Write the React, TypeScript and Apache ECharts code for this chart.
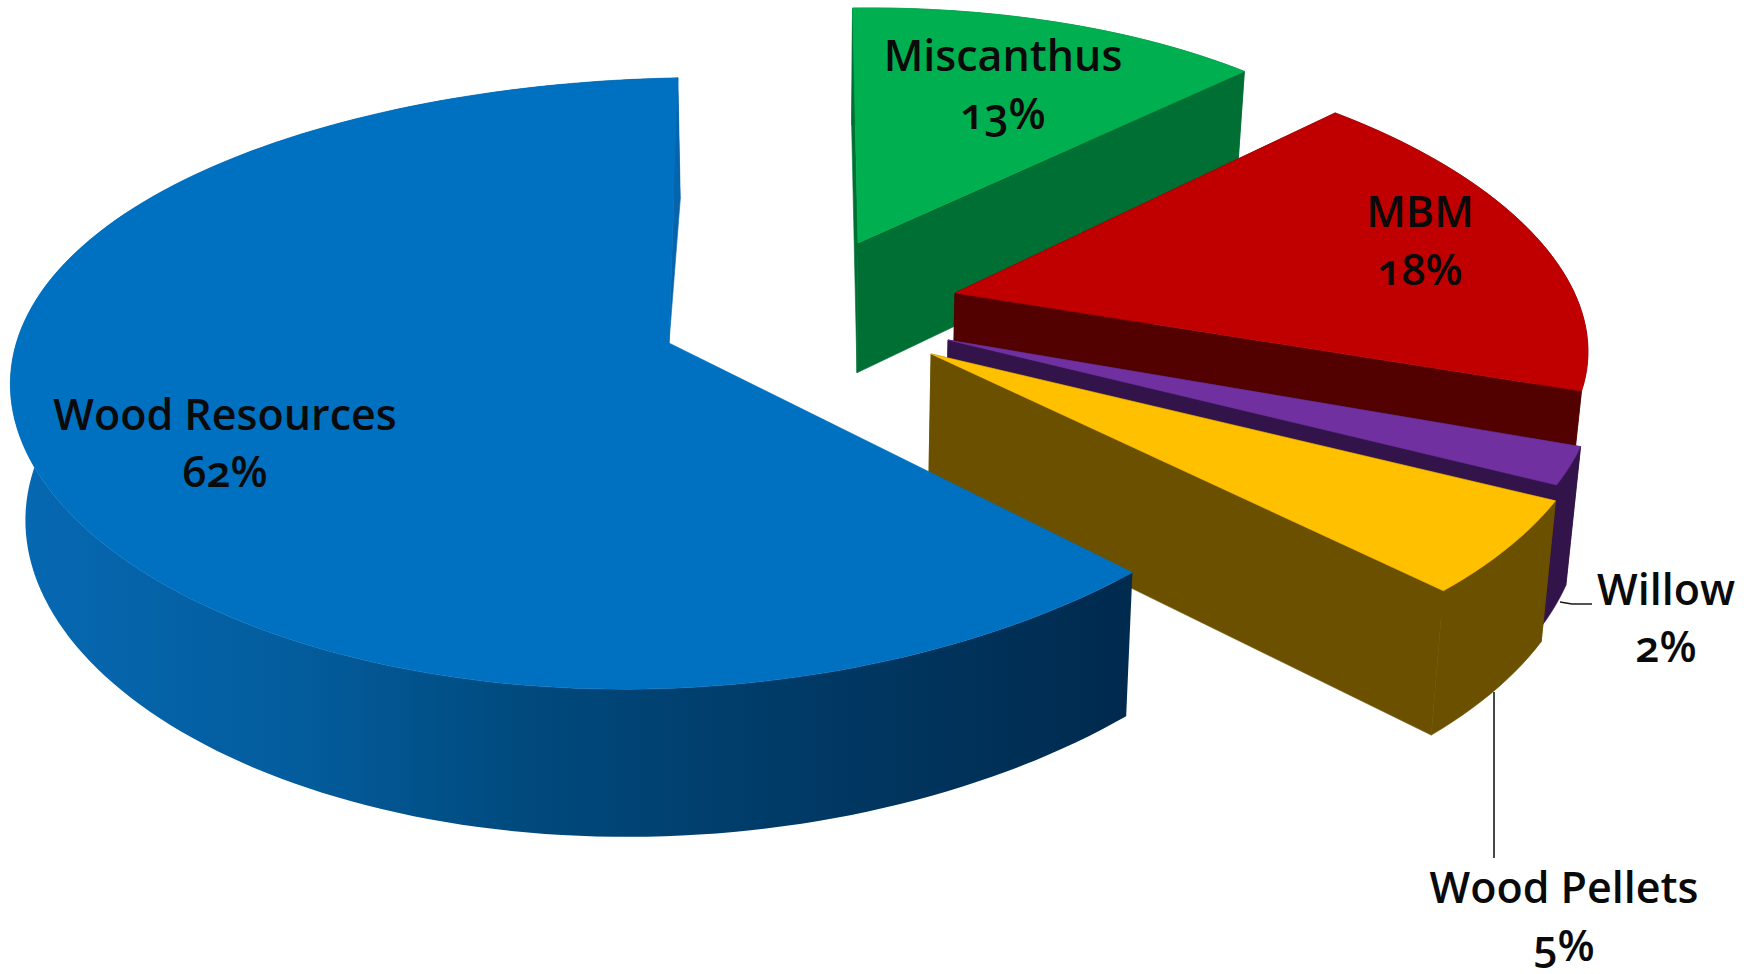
import React, { useEffect, useRef } from "react";
import * as echarts from "echarts";

// Pie slices, clockwise from twelve o'clock.
const sliceNames = ["Miscanthus", "MBM", "Willow", "Wood Pellets", "Wood Resources"];
const sliceShares = [13, 18, 2, 5, 62];

// Slice paint: top face and side walls.
const topColors = ["#00B050", "#C00000", "#7030A0", "#FFC000", "#0070C0"];
const wallColors = ["#006F33", "#520000", "#33144A", "#6B5000", "#0664AD"];

// How far each slice is pulled out of the pie, on the pie's own plane.
const explodeU = [0.0855, 0.2353, 0.2188, 0.1919, -0.2062];
const explodeV = [0.2438, 0.0656, -0.0947, -0.141, -0.1047];

// Per-slice foreshortening of the radius, tilt and horizontal perspective strength.
const scaleU = [0.915, 0.966, 0.977, 0.998, 0.998];
const scaleV = [0.96, 0.965, 1.0, 1.0, 1.0];
const tilt = [0.03, 0.03, 0.03, 0.03, 0.05];
const perspectiveU = [0.12, 0.2, 0.13, 0.13, 0.07];

// Label anchors, one pair per slice.
const nameX = [1003, 1420, 1666, 1564, 225];
const nameY = [54, 210, 588, 886, 413];
const shareY = [112, 268, 645, 944, 470];

// Pie projection.
const CX = 804;
const CY = 312;
const RX = 650;
const RY = 292;
const PERSPECTIVE_V = 0.13;
const DEPTH = 133;
const CONVERGE = 0.019;

const FONT = '"Open Sans", "Noto Sans", sans-serif';

function project(i: number, u: number, v: number, lower: boolean): number[] {
  let x = CX + (RX * u) / (1 + perspectiveU[i] * v);
  let y = CY - (RY * v) / (1 + PERSPECTIVE_V * v);
  if (lower) {
    y += DEPTH * (1 - 0.1 * v);
    x = CX + (x - CX) * (1 - CONVERGE);
  }
  return [x, y];
}

const blueWallGradient = () =>
  new echarts.graphic.LinearGradient(
    25,
    0,
    1128,
    0,
    [
      { offset: 0, color: "#0668B2" },
      { offset: 0.25, color: "#035C9C" },
      { offset: 0.45, color: "#004A7E" },
      { offset: 0.7, color: "#003A66" },
      { offset: 1, color: "#002A4E" },
    ],
    true
  );

function renderSlice(params: any, api: any) {
  const i = params.dataIndex;
  const isLargest = i === sliceShares.length - 1;
  const total = sliceShares.reduce((a, b) => a + b, 0);
  const before = sliceShares.slice(0, i).reduce((a, b) => a + b, 0);
  const from = (before / total) * Math.PI * 2;
  const to = ((before + api.value(0)) / total) * Math.PI * 2;
  const ou = explodeU[i];
  const ov = explodeV[i];

  const steps = Math.max(8, Math.round((to - from) * 40));
  const upper: number[][] = [];
  const lower: number[][] = [];
  for (let s = 0; s <= steps; s++) {
    const a = from + ((to - from) * s) / steps;
    const u = ou + scaleU[i] * Math.sin(a);
    const v = ov + scaleV[i] * Math.cos(a) + tilt[i] * Math.sin(a);
    upper.push(project(i, u, v, false));
    lower.push(project(i, u, v, true));
  }
  const apex = project(i, ou, ov, false);
  const apexLow = project(i, ou, ov, true);
  const wall = wallColors[i];
  const outerFill: any = isLargest ? blueWallGradient() : wall;

  const poly = (points: number[][], fill: any) => ({
    type: "polygon",
    shape: { points },
    style: typeof fill === "string" ? { fill, stroke: fill, lineWidth: 0.6 } : { fill, stroke: null },
    silent: true,
  });

  // The big slice's back wall only shows as a sliver tapering into its apex.
  const closingWall = isLargest
    ? [apex, upper[steps], lower[steps]]
    : [apex, upper[steps], lower[steps], apexLow];

  const children: any[] = [];
  if (!isLargest) children.push(poly([apex, upper[0], lower[0], apexLow], wall));
  children.push(poly([...upper, ...lower.slice().reverse()], outerFill));
  children.push(poly(closingWall, wall));
  children.push(poly([apex, ...upper], topColors[i]));
  return { type: "group", children };
}

function labelTexts() {
  const out: any[] = [];
  sliceNames.forEach((name, i) => {
    const base = {
      fill: "#0A0A0A",
      font: `600 43px ${FONT}`,
      textAlign: "center",
      textVerticalAlign: "middle",
    };
    out.push({ type: "text", x: nameX[i], y: nameY[i], z: 10, style: { ...base, text: name } });
    out.push({ type: "text", x: nameX[i], y: shareY[i], z: 10, style: { ...base, text: `${sliceShares[i]}%` } });
  });
  return out;
}

const leaderStyle = { stroke: "#1A1A1A", lineWidth: 1.6 };

export default function App() {
  const ref = useRef<HTMLDivElement>(null);

  useEffect(() => {
    document.body.style.margin = "0";
    const chart = echarts.init(ref.current!, undefined, { renderer: "svg" });
    chart.setOption({
      animation: false,
      backgroundColor: "#FFFFFF",
      series: [
        {
          type: "custom",
          coordinateSystem: "none",
          renderItem: renderSlice,
          data: sliceShares,
          silent: true,
        },
      ],
      graphic: [
        {
          type: "polyline",
          z: 9,
          shape: { points: [[1560, 602], [1572, 604], [1592, 604]] },
          style: leaderStyle,
        },
        {
          type: "line",
          z: 9,
          shape: { x1: 1494, y1: 692, x2: 1494, y2: 858 },
          style: leaderStyle,
        },
        ...labelTexts(),
      ],
    });
    return () => chart.dispose();
  }, []);

  return (
    <>
      <style>{`#pie3d text { font-feature-settings: "onum" 1 !important; font-variant-numeric: oldstyle-nums !important; }`}</style>
      <div id="pie3d" ref={ref} style={{ width: 1748, height: 974 }} />
    </>
  );
}
